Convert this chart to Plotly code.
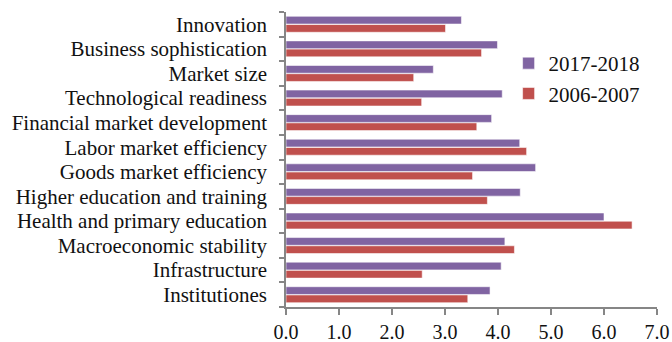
import plotly.graph_objects as go

# Pillars listed bottom-to-top as they appear on the category axis
pillars = [
    "Institutiones",
    "Infrastructure",
    "Macroeconomic stability",
    "Health and primary education",
    "Higher education and training",
    "Goods market efficiency",
    "Labor market efficiency",
    "Financial market development",
    "Technological readiness",
    "Market size",
    "Business sophistication",
    "Innovation",
]

scores_2017_2018 = [3.85, 4.06, 4.13, 6.00, 4.42, 4.71, 4.41, 3.88, 4.08, 2.78, 3.99, 3.31]
scores_2006_2007 = [3.43, 2.57, 4.31, 6.53, 3.80, 3.52, 4.54, 3.60, 2.56, 2.41, 3.69, 3.01]

x_ticks = [0, 1, 2, 3, 4, 5, 6, 7]
x_tick_labels = ["0.0", "1.0", "2.0", "3.0", "4.0", "5.0", "6.0", "7.0"]

axis_grey = "#868686"
font_family = "Liberation Serif, Times New Roman, serif"

fig = go.Figure()
fig.add_trace(go.Bar(
    y=pillars, x=scores_2006_2007, name="2006-2007", orientation="h",
    marker=dict(color="#C0504D", line=dict(color="rgba(255,255,255,0.7)", width=0.8)),
))
fig.add_trace(go.Bar(
    y=pillars, x=scores_2017_2018, name="2017-2018", orientation="h",
    marker=dict(color="#8064A2", line=dict(color="rgba(255,255,255,0.7)", width=0.8)),
))

fig.update_layout(
    width=672, height=342,
    margin=dict(l=286, r=15, t=12, b=35),
    paper_bgcolor="white", plot_bgcolor="white",
    barmode="group", bargap=0.33, bargroupgap=0.06,
    font=dict(family=font_family, size=21, color="#111111"),
    showlegend=True,
    legend=dict(
        x=0.60, y=0.895, xanchor="left", yanchor="top",
        traceorder="reversed",
        font=dict(family=font_family, size=21, color="#111111"),
        bgcolor="rgba(0,0,0,0)", itemwidth=30, tracegroupgap=0,
    ),
    xaxis=dict(
        range=[0, 7], tickvals=x_ticks, ticktext=x_tick_labels,
        showgrid=False, zeroline=False, automargin=False,
        showline=True, linecolor=axis_grey, linewidth=1.5,
        ticks="outside", ticklen=6, tickcolor=axis_grey, tickwidth=1.5,
        ticklabelstandoff=0,
        tickfont=dict(size=20), fixedrange=True,
    ),
    yaxis=dict(
        type="category", categoryorder="array", categoryarray=pillars,
        tickmode="linear", tick0=0, dtick=1,
        showgrid=False, zeroline=False, automargin=False,
        showline=True, linecolor=axis_grey, linewidth=1.5,
        ticks="outside", ticklen=5, tickcolor=axis_grey, tickwidth=1.5,
        tickson="boundaries", ticklabelstandoff=13,
        tickfont=dict(size=21), fixedrange=True,
    ),
)

fig.write_html("out.html")
